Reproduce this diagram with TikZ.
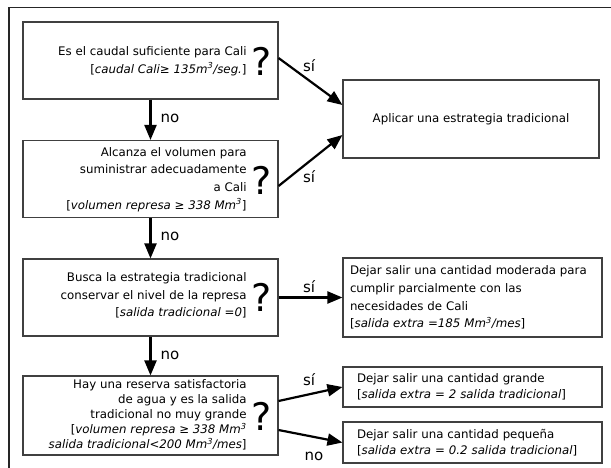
\documentclass[tikz,border=0pt]{standalone}
\usepackage{fontspec}
\setmainfont{DejaVu Sans}
\usetikzlibrary{arrows.meta}

\begin{document}
\begin{tikzpicture}[x=1pt, y=-1pt, thick,
  test/.style = {draw=black!75, line width=1.1pt, minimum width=255pt, minimum height=77pt, inner sep=0pt},
  ask/.style = {anchor=east, align=right, inner sep=0pt, font=\fontsize{11.8}{17.6}\selectfont},
  quest/.style = {inner sep=0pt, font=\fontsize{38}{38}\selectfont},
  act/.style = {draw=black!75, line width=1.1pt, minimum width=259pt, inner sep=0pt, align=left, font=\fontsize{11.8}{17.6}\selectfont},
  lab/.style = {inner sep=0pt, font=\fontsize{15}{15}\selectfont},
  go/.style = {line width=2.2pt, -{Triangle[length=15pt,width=12pt]}}]
  \clip (0,0) rectangle (611,467);
  \useasboundingbox (0,0) rectangle (611,467);
  % outer frame
  \draw[line width=1.1pt, black!85] (9,7.5) rectangle (650,520);

  % questions
  \node[test] (b1) at (150.5,60.5) {};
  \node[test] (b2) at (150.5,179) {};
  \node[test] (b3) at (150.5,297.5) {};
  \node[test, minimum height=79pt] (b4) at (150.5,415.5) {};

  \node[ask] (t1) at (247,61) {Es el caudal suficiente para Cali\\\relax
    [\textit{caudal Cali}≥\textit{ 135m\textsuperscript{3}/seg.}]};
  \node[ask] (t2) at (247,179.5) {Alcanza el volumen para\\ suministrar adecuadamente\\ a Cali\\\relax
    [\textit{volumen represa} ≥ \textit{338 Mm\textsuperscript{3}}]};
  \node[ask] (t3) at (247,295.5) {Busca la estrategia tradicional\\ conservar el nivel de la represa\\\relax
    [\textit{salida tradicional =0}]};
  \node[ask, font=\fontsize{11.8}{15}\selectfont] (t4) at (247,415) {Hay una reserva satisfactoria\\ de agua y es la salida\\ tradicional no muy grande\\\relax
    [\textit{volumen represa} ≥ \textit{338 Mm\textsuperscript{3}}\\
    \textit{salida tradicional}<\textit{200 Mm\textsuperscript{3}/mes}]};

  \node[quest] (q1) at (262,61) {?};
  \node[quest] (q2) at (262,180) {?};
  \node[quest] (q3) at (262,297.5) {?};
  \node[quest] (q4) at (262,416.5) {?};

  % actions
  \node[act, minimum height=78pt, minimum width=256pt, align=center] (a1) at (471,119) {Aplicar una estrategia tradicional};
  \node[act, minimum height=79pt, text width=245pt] (a2) at (472.5,297.5) {Dejar salir una cantidad moderada para\\ cumplir parcialmente con las\\ necesidades de Cali\\\relax
    [\textit{salida extra =185 Mm\textsuperscript{3}/mes}]};
  \node[act, minimum height=40pt, text width=231pt, font=\fontsize{11.8}{16.5}\selectfont] (a3) at (472.5,387) {Dejar salir una cantidad grande\\\relax
    [\textit{salida extra = 2 salida tradicional}]};
  \node[act, minimum height=41pt, text width=231pt, font=\fontsize{11.8}{16.5}\selectfont] (a4) at (472.5,442.5) {Dejar salir una cantidad pequeña\\\relax
    [\textit{salida extra = 0.2 salida tradicional}]};

  % connectors
  \draw[go] (b1) to (b2);
  \draw[go] (b2) to (b3);
  \draw[go] (b3) to (b4);
  \draw[go] ([yshift=2.5pt]b1.east) to ([yshift=14pt]a1.west);
  \draw[go] ([yshift=-7pt]b2.east) to ([yshift=-16pt]a1.west);
  \draw[go] (b3.east) to (a2.west);
  \draw[go] ([yshift=14.5pt]b4.east) to (a3.west);
  \draw[go] ([yshift=-14.5pt]b4.east) to (a4.west);

  \node[lab] (n1) at (170,118) {no};
  \node[lab] (n2) at (170,236) {no};
  \node[lab] (n3) at (170,355) {no};
  \node[lab] (s1) at (309,66) {sí};
  \node[lab] (s2) at (309,177) {sí};
  \node[lab] (s3) at (309,287) {sí};
  \node[lab] (s4) at (309,380) {sí};
  \node[lab] (n4) at (314,456) {no};
\end{tikzpicture}
\end{document}
